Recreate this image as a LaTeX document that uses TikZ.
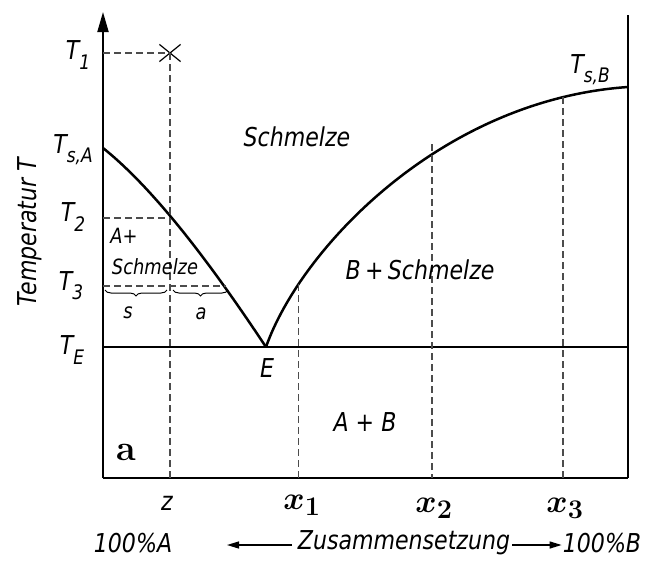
\documentclass[tikz,border=0pt]{standalone}
\usepackage{fontspec}
\newfontfamily\lab[FakeStretch=0.85]{DejaVu Sans}
\usetikzlibrary{arrows.meta,decorations.pathreplacing,shapes.misc}
\newcommand\lsub[1]{\raisebox{-0.35em}{\fontsize{20}{22}\selectfont #1}}
\begin{document}
\begin{tikzpicture}[x=1pt,y=-1pt,
  curveline/.style={line width=2.5pt},
  axisline/.style={line width=1.9pt},
  dashline/.style={line width=1.2pt, dash pattern=on 7pt off 4pt, black!70},
  lbl/.style={font=\lab\itshape\fontsize{26}{30}\selectfont, inner sep=0pt},
  slbl/.style={font=\lab\itshape\fontsize{21}{24}\selectfont, inner sep=0pt},
  mlbl/.style={font=\fontsize{24.88}{28}\selectfont\boldmath, inner sep=0pt, scale=1.3},
  bracestyle/.style={decorate, decoration={brace, mirror, amplitude=6pt}, line width=1pt},
]
\useasboundingbox (0,0) rectangle (645,570);
% frame coordinates
\coordinate (O) at (103,478);
\coordinate (atop) at (103,12);
\coordinate (BR) at (628,478);
\coordinate (TR) at (628,15);
\coordinate (tsa) at (103,148);
\coordinate (E) at (266,347);
\coordinate (teR) at (628,347);
\coordinate (tsb) at (628,87);
\coordinate (c1) at (298.6,284);
\coordinate (c2) at (432,144);
\coordinate (c3) at (563,97);
\coordinate (t2c) at (170,218);
\coordinate (t3c) at (226,286);
% axes
\draw[axisline, -{Triangle[length=20pt,width=11pt]}] (O) -- (atop);
\draw[axisline] (O) -- (BR);
\draw[line width=1.4pt] (BR) -- (TR);
% eutectic line
\draw[curveline] (O |- E) -- (teR);
% liquidus curves
\draw[curveline] (tsa) .. controls (163,196) and (226,287) .. (E);
\draw[curveline] (E) .. controls (300,250) and (440,100) .. (tsb);
% marker and dashed lines
\node[draw, cross out, minimum width=20pt, minimum height=16pt, line width=1.2pt, inner sep=0pt] (xm) at (170,53) {};
\draw[dashline] (O |- xm) -- (xm.center);
\draw[dashline] (xm.center) -- (xm |- O);
\draw[dashline] (O |- t2c) -- (t2c);
\draw[dashline] (O |- t3c) -- (t3c);
\draw[dashline] (c1) -- (c1 |- O);
\draw[dashline] (c2) -- (c2 |- O);
\draw[dashline] (c3) -- (c3 |- O);
% braces
\draw[bracestyle] (105,290) -- (167,290);
\draw[bracestyle] (173,290) -- (228,290);
\node[slbl] (ls) at (128,313) {s};
\node[slbl] (la) at (201,314) {a};
% axis labels
\node[lbl] (t1) at (78,55) {T\lsub{1}};
\node[lbl] (tsal) at (73,150) {T\lsub{s,A}};
\node[lbl] (t2) at (73,217) {T\lsub{2}};
\node[lbl] (t3) at (71,286) {T\lsub{3}};
\node[lbl] (tel) at (72,350) {T\lsub{E}};
\node[lbl, rotate=90] (temp) at (30,232) {Temperatur T};
\node[lbl] (tsbl) at (590,70) {T\lsub{s,B}};
% region labels
\node[lbl] (schm) at (297,137) {Schmelze};
\node[lbl] (bs) at (420,270) {B\,+\,Schmelze};
\node[lbl] (ab) at (365,422) {A + B};
\node[slbl] (ap) at (124,236) {A+};
\node[slbl] (sm) at (155,267) {Schmelze};
\node[lbl] (el) at (267,368) {E};
\node[font=\fontsize{36}{40}\selectfont\bfseries, inner sep=0pt] (pa) at (126,452) {a};
% bottom labels
\node[lbl] (zl) at (167,503) {z};
\node[mlbl] (x1l) at (302,505) {$x_1$};
\node[mlbl] (x2l) at (434,508) {$x_2$};
\node[mlbl] (x3l) at (565,508) {$x_3$};
\node[lbl] (pA) at (133,543) {100\%A};
\node[lbl] (comp) at (404,543) {Zusammensetzung};
\node[lbl] (pB) at (602,543) {100\%B};
\draw[line width=1.3pt, -{Triangle[length=12pt,width=7pt]}] ([xshift=-6pt,yshift=-2pt]comp.west) -- ([yshift=-2pt]comp.west -| 227,0);
\draw[line width=1.3pt, -{Triangle[length=12pt,width=7pt]}] ([xshift=2pt,yshift=-2pt]comp.east) -- ([xshift=-1pt,yshift=-2pt]pB.west);
\end{tikzpicture}
\end{document}
